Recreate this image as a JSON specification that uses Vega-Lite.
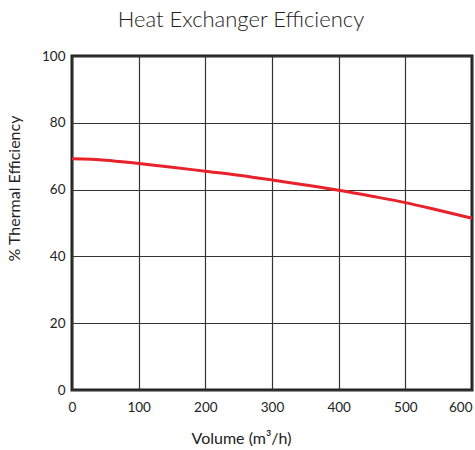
{
  "$schema": "https://vega.github.io/schema/vega-lite/v6.json",
  "autosize": {"type": "none"},
  "width": 400,
  "height": 334,
  "padding": {"left": 72, "top": 56, "right": 3, "bottom": 60},
  "background": "white",
  "title": {
    "text": "Heat Exchanger Efficiency",
    "anchor": "middle",
    "dx": -31,
    "offset": 17,
    "fontSize": 22,
    "fontWeight": 300,
    "font": "Lato",
    "color": "#222222"
  },
  "config": {
    "view": {"stroke": "#222222", "strokeWidth": 3},
    "axis": {
      "labelFont": "Lato",
      "titleFont": "Lato",
      "labelFontSize": 13.5,
      "titleFontSize": 16,
      "labelColor": "#222222",
      "titleColor": "#222222",
      "titleFontWeight": "normal",
      "gridColor": "#333333",
      "gridOpacity": 1,
      "gridWidth": 1.2,
      "ticks": false,
      "domain": false
    }
  },
  "data": {
    "values": [
      {"volume": 0, "efficiency": 69.2},
      {"volume": 50, "efficiency": 68.8},
      {"volume": 100, "efficiency": 67.8},
      {"volume": 150, "efficiency": 66.7},
      {"volume": 200, "efficiency": 65.5},
      {"volume": 250, "efficiency": 64.3},
      {"volume": 300, "efficiency": 62.9},
      {"volume": 350, "efficiency": 61.4},
      {"volume": 400, "efficiency": 59.8},
      {"volume": 450, "efficiency": 58.0},
      {"volume": 500, "efficiency": 56.1},
      {"volume": 550, "efficiency": 53.8},
      {"volume": 600, "efficiency": 51.4}
    ]
  },
  "mark": {"type": "line", "color": "#e8212b", "strokeWidth": 3, "interpolate": "monotone"},
  "encoding": {
    "x": {
      "field": "volume",
      "type": "quantitative",
      "scale": {"domain": [0, 600], "nice": false},
      "axis": {
        "values": [0, 100, 200, 300, 400, 500, 600],
        "title": "Volume (m³/h)",
        "labelPadding": 10,
        "labelAlign": {"expr": "datum.value == 600 ? 'right' : 'center'"},
        "labelDx": {"expr": "datum.value == 600 ? 2 : (datum.value == 0 ? -3 : 0)"},
        "titleX": 169,
        "titleY": 48,
        "titleBaseline": "middle",
        "labelFlush": false
      }
    },
    "y": {
      "field": "efficiency",
      "type": "quantitative",
      "scale": {"domain": [0, 100], "nice": false},
      "axis": {
        "values": [0, 20, 40, 60, 80, 100],
        "title": "% Thermal Efficiency",
        "labelPadding": 7,
        "titleX": -58,
        "titleY": 132,
        "titleBaseline": "middle",
        "labelFlush": false
      }
    }
  }
}
